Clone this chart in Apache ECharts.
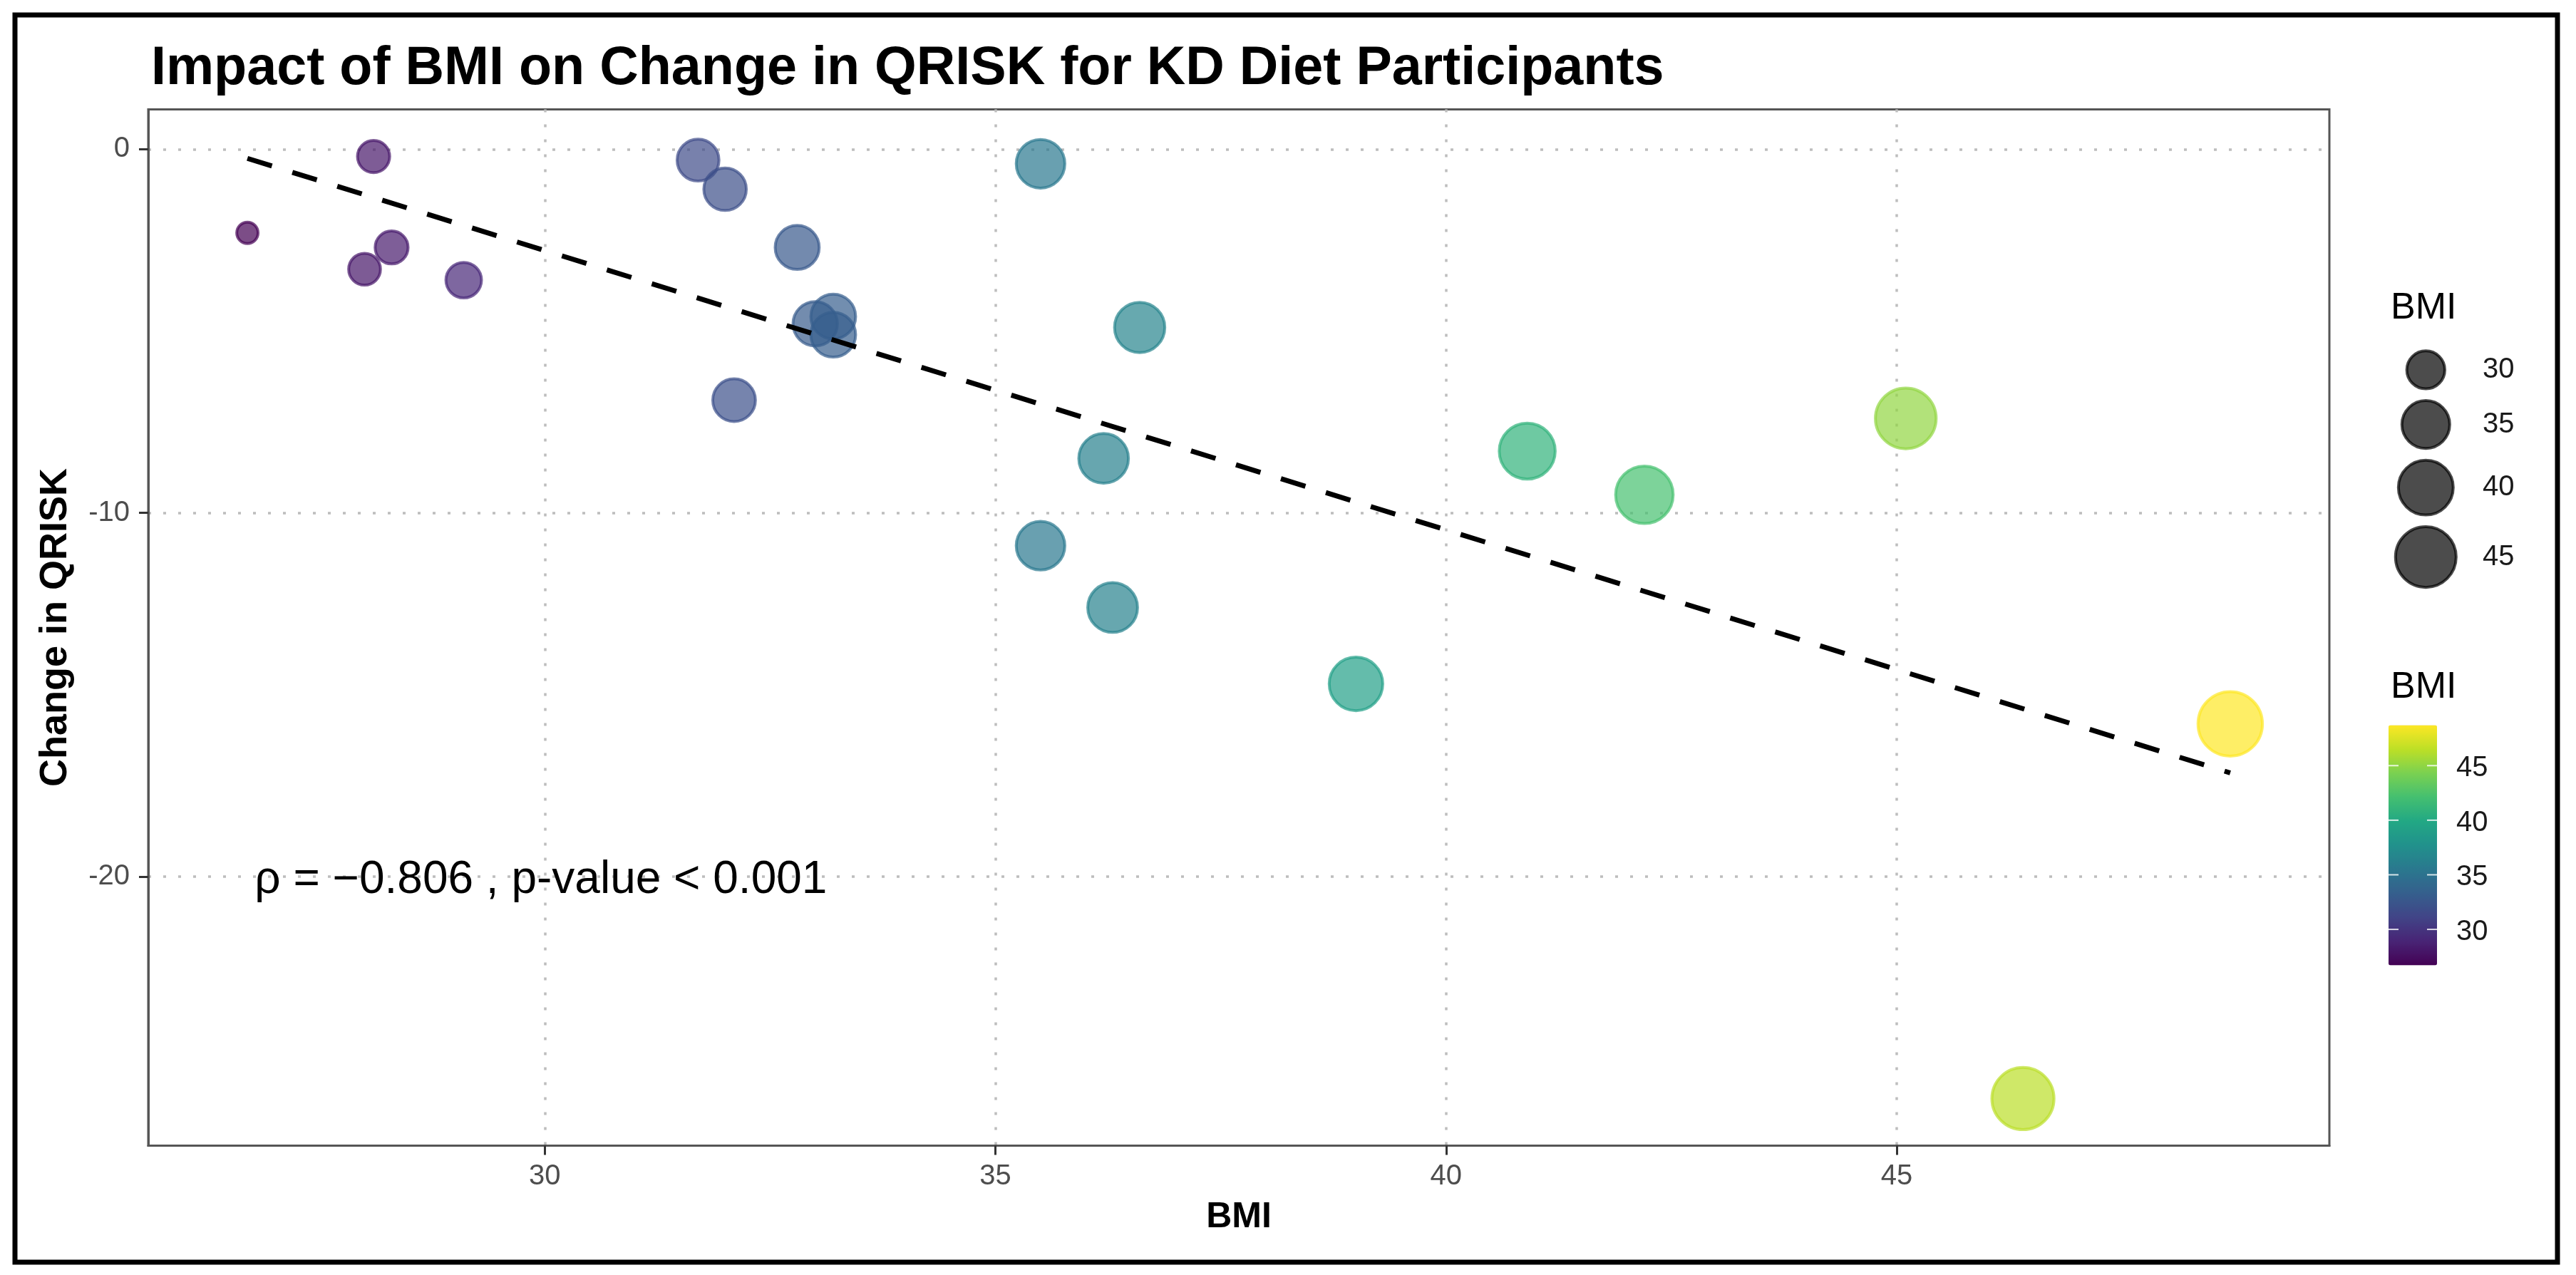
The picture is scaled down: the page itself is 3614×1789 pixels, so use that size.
<!DOCTYPE html>
<html><head><meta charset="utf-8">
<script src="https://cdn.jsdelivr.net/npm/echarts@6/dist/echarts.min.js"></script>
<style>html,body{margin:0;padding:0;background:#fff}#c{width:3614px;height:1789px}</style>
</head><body><div id="c"></div>
<script>
// ---- data ----
const bmi   = [26.7, 28.1, 28.0, 28.3, 29.1, 31.7, 32.0, 32.8, 33.0, 33.2, 33.2, 32.1, 35.5, 36.6, 36.2, 35.5, 36.3, 39.0, 40.9, 42.2, 45.1, 48.7, 46.4];
const qrisk = [-2.3, -0.2, -3.3, -2.7, -3.6, -0.3, -1.1, -2.7, -4.8, -4.6, -5.1, -6.9, -0.4, -4.9, -8.5, -10.9, -12.6, -14.7, -8.3, -9.5, -7.4, -15.8, -26.1];
const xTicks = [30, 35, 40, 45];
const yTicks = [-20, -10, 0];
const sizeLegendValues = [30, 35, 40, 45];
const colorbarTicks = [45, 40, 35, 30];
const titleText = 'Impact of BMI on Change in QRISK for KD Diet Participants';
const annotationText = 'ρ = −0.806 , p-value < 0.001';
const annotationAt = [26.78, -20.1];

// ---- helpers ----
const FONT = '"Liberation Sans", Arial, Helvetica, sans-serif';
const viridisStops = ['#440154','#482475','#414487','#355f8d','#2a788e','#21918c','#22a884','#44bf70','#7ad151','#bddf26','#fde725'];
function hexRgb(h){return [parseInt(h.substr(1,2),16),parseInt(h.substr(3,2),16),parseInt(h.substr(5,2),16)];}
function viridis(t){
  t=Math.max(0,Math.min(1,t)); const n=viridisStops.length-1;
  const i=Math.min(n-1,Math.floor(t*n)); const f=t*n-i;
  const a=hexRgb(viridisStops[i]), b=hexRgb(viridisStops[i+1]);
  return 'rgb('+a.map((v,k)=>Math.round(v+(b[k]-v)*f)).join(',')+')';
}
const bMin=Math.min(...bmi), bMax=Math.max(...bmi);
const qMin=Math.min(...qrisk), qMax=Math.max(...qrisk);
const xPad=(bMax-bMin)*0.05, yPad=(qMax-qMin)*0.05;
const BORDER=4;
function diam(v){ const t=(v-bMin)/(bMax-bMin); return 12.1*(1+5*Math.sqrt(Math.max(0,t)))+21.8; }

// regression (least squares)
const n=bmi.length;
const mx=bmi.reduce((a,b)=>a+b,0)/n, my=qrisk.reduce((a,b)=>a+b,0)/n;
let sxy=0,sxx=0; for(let i=0;i<n;i++){sxy+=(bmi[i]-mx)*(qrisk[i]-my); sxx+=(bmi[i]-mx)*(bmi[i]-mx);}
const slope=sxy/sxx, icpt=my-slope*mx;
const fitLine=[[bMin, icpt+slope*bMin],[bMax, icpt+slope*bMax]];

const points=bmi.map((b,i)=>({value:[b,qrisk[i]], itemStyle:{color:viridis((b-bMin)/(bMax-bMin)), borderColor:viridis((b-bMin)/(bMax-bMin))}}));

const chart=echarts.init(document.getElementById('c'),null,{renderer:'canvas',width:3614,height:1789});
const axisText={fontFamily:FONT,fontSize:40,color:'#4D4D4D'};
chart.setOption({
  backgroundColor:'#fff',
  animation:false,
  title:{text:titleText,left:212,top:59,padding:0,textStyle:{fontFamily:FONT,fontSize:75.5,fontWeight:'bold',color:'#000'}},
  grid:{left:208,right:346,top:153.5,bottom:181.5,show:true,borderColor:'#555',borderWidth:3,backgroundColor:'transparent'},
  xAxis:{type:'value',min:bMin-xPad,max:bMax+xPad,
    name:'BMI',nameLocation:'middle',nameGap:76,
    nameTextStyle:{fontFamily:FONT,fontSize:50,fontWeight:'bold',color:'#000'},
    axisLine:{show:true,onZero:false,lineStyle:{color:'#555',width:3}},
    axisTick:{show:true,customValues:xTicks,length:13,lineStyle:{color:'#333',width:3}},
    axisLabel:Object.assign({customValues:xTicks,margin:23},axisText),
    splitLine:{show:true,lineStyle:{color:'#bdbdbd',width:3.5,type:[4,17]}}},
  yAxis:{type:'value',min:qMin-yPad,max:qMax+yPad,
    name:'Change in QRISK',nameLocation:'middle',nameGap:103,
    nameTextStyle:{fontFamily:FONT,fontSize:54,fontWeight:'bold',color:'#000'},
    axisLine:{show:true,onZero:false,lineStyle:{color:'#555',width:3}},
    axisTick:{show:true,customValues:yTicks,length:13,lineStyle:{color:'#333',width:3}},
    axisLabel:Object.assign({customValues:yTicks,margin:26},axisText),
    splitLine:{show:true,lineStyle:{color:'#bdbdbd',width:3.5,type:[4,17]}}},
  visualMap:{type:'continuous',show:true,seriesIndex:0,dimension:0,min:bMin,max:bMax,
    inRange:{color:viridisStops},left:3351,top:1017.6,itemWidth:68,itemHeight:337,
    calculable:false,padding:0,text:null,hoverLink:false},
  series:[
    {type:'scatter',data:points,z:2,
     symbolSize:function(v){return diam(v[0])-BORDER;},
     itemStyle:{opacity:0.7,borderWidth:BORDER}},
    {type:'line',data:fitLine,z:3,symbol:'none',showSymbol:false,silent:true,
     lineStyle:{color:'#000',width:7,type:[36,30],cap:'butt'}}
  ]
});

// ---- legends & annotation (graphics) ----
const g=[];
g.push({type:'rect',shape:{x:21,y:21,width:3567,height:1750},style:{fill:'none',stroke:'#000',lineWidth:7},z:100});
// size legend
g.push({type:'text',x:3354,y:432.5,style:{text:'BMI',fontFamily:FONT,fontSize:52,fill:'#000',textAlign:'left',textVerticalAlign:'middle',align:'left',verticalAlign:'middle'}});
let cy=518.9, prevD=null;
sizeLegendValues.forEach(v=>{
  const d=diam(v);
  if(prevD!==null) cy+= (prevD+d)/2+12.5;
  prevD=d;
  g.push({type:'circle',shape:{cx:3403.3,cy:cy,r:(d-BORDER)/2},style:{fill:'rgba(0,0,0,0.7)',stroke:'rgba(0,0,0,0.7)',lineWidth:BORDER}});
  g.push({type:'text',x:3483,y:cy,style:{text:String(v),fontFamily:FONT,fontSize:40,fill:'#1a1a1a',textAlign:'left',textVerticalAlign:'middle',align:'left',verticalAlign:'middle'}});
});
// colorbar title, ticks, labels
g.push({type:'text',x:3354,y:964.5,style:{text:'BMI',fontFamily:FONT,fontSize:52,fill:'#000',textAlign:'left',textVerticalAlign:'middle',align:'left',verticalAlign:'middle'}});
const cbTop=1017.6, cbH=337, cbL=3351, cbW=68;
colorbarTicks.forEach(v=>{
  const y=cbTop+(bMax-v)/(bMax-bMin)*cbH;
  g.push({type:'line',shape:{x1:cbL,y1:y,x2:cbL+14,y2:y},style:{stroke:'rgba(255,255,255,0.8)',lineWidth:2},z:50});
  g.push({type:'line',shape:{x1:cbL+cbW-14,y1:y,x2:cbL+cbW,y2:y},style:{stroke:'rgba(255,255,255,0.8)',lineWidth:2},z:50});
  g.push({type:'text',x:3446,y:y+4,style:{text:String(v),fontFamily:FONT,fontSize:40,fill:'#1a1a1a',textAlign:'left',textVerticalAlign:'middle',align:'left',verticalAlign:'middle'}});
});
// annotation
const ap=chart.convertToPixel({gridIndex:0},annotationAt);
g.push({type:'text',x:ap[0],y:ap[1],style:{text:annotationText,fontFamily:FONT,fontSize:64,fill:'#000',textAlign:'left',textVerticalAlign:'middle',align:'left',verticalAlign:'middle'},z:10});
chart.setOption({graphic:g});
</script></body></html>
